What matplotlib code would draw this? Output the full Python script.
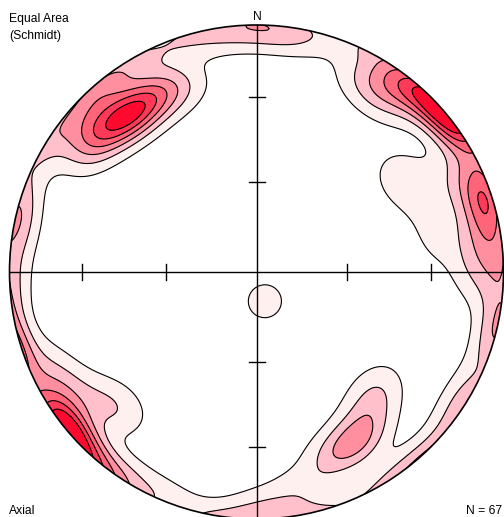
import numpy as np
import matplotlib
matplotlib.use("Agg")
import matplotlib.pyplot as plt
from matplotlib.patches import Circle

# ---- data: 67 axial measurements (trend, plunge in degrees) ----
trend = [
    # NW cluster
    321, 320, 322, 317, 325,
    311, 306, 332, 313, 329,
    318, 330, 323, 316, 337, 308,
    # N band
    341, 350, 358, 5, 10,
    # NE cluster (on primitive)
    47, 49, 229, 231, 52, 44, 40, 233,
    40, 36, 55,
    30, 35,
    # E cluster
    70, 72, 71, 74, 82,
    65, 80, 64, 78, 88, 57,
    # E primitive
    103, 107, 120, 125, 92,
    # SE cluster
    150, 152, 146, 158, 140, 134, 168, 178,
    # SW inward, W, SW
    230, 238, 244, 268, 202, 213, 280, 225,
    # centre
    164,
]
plunge = [
    20, 19, 20, 19, 19,
    14, 8, 17, 18, 21,
    6, 2, 1, 2, 21, 18,
    2, 3, 3, 2, 4,
    1, 0, 1, 2, 1, 2, 8, 3,
    3, 5, 2,
    12, 16,
    3, 5, 2, 5, 3,
    12, 10, 26, 26, 15, 32,
    0, 1, 3, 1, 6,
    22, 21, 24, 20, 29, 33, 12, 6,
    18, 13, 8, 1, 2, 3, 3, 24,
    80,
]
n_label = "N = %d" % len(trend)

# ---- geometry (pixels of the reference) ----
W, H = 504, 517
CX, CY, R = 256.5, 272.0, 247.0

fig = plt.figure(figsize=(W / 100, H / 100), dpi=100)
ax = fig.add_axes([0, 0, 1, 1])
ax.set_xlim(-CX / R, (W - CX) / R)
ax.set_ylim(-(H - CY) / R, CY / R)
ax.axis("off")

# ---- density (exponential Kamb-like kernel, axial) ----
t = np.radians(trend)
p = np.radians(plunge)
dn = np.cos(p) * np.cos(t)
de = np.cos(p) * np.sin(t)
dd = np.sin(p)

g = np.linspace(-1.05, 1.05, 421)
X, Y = np.meshgrid(g, g)
r = np.clip(np.hypot(X, Y), 0, np.sqrt(2) - 1e-9)
th = 2 * np.arcsin(r / np.sqrt(2))
az = np.arctan2(X, Y)
gn = np.sin(th) * np.cos(az)
ge = np.sin(th) * np.sin(az)
gd = np.cos(th)
dots = np.abs(gn[..., None] * dn + ge[..., None] * de + gd[..., None] * dd)
f = 80.0
Z = np.exp(f * (dots - 1)).sum(axis=-1)

levels = [0.7, 1.7, 2.7, 3.7, 4.7, 5.7, 1e9]
colors = ['#FFF0F0', '#FFC0CB', '#FF8F9F', '#FF6478', '#FF3A58', '#FF0A2E']
circ = Circle((0, 0), 1.0, transform=ax.transData)
cf = ax.contourf(X, Y, Z, levels=levels, colors=colors)
cf.set_clip_path(circ)
cl = ax.contour(X, Y, Z, levels=levels[:-1], colors='black', linewidths=0.8)
cl.set_clip_path(circ)

# ---- net frame ----
ax.add_patch(Circle((0, 0), 1.0, fill=False, edgecolor='black', lw=1.2, zorder=5))
ax.plot([0, 0], [-1, 1], color='black', lw=1.0, zorder=5)
ax.plot([-1, 1], [0, 0], color='black', lw=1.0, zorder=5)
tick_plunges = [60, 30]
hl = 8 / R
for tp in tick_plunges:
    rr = np.sqrt(2) * np.sin(np.radians(90 - tp) / 2)
    for s in (-1, 1):
        ax.plot([s * rr, s * rr], [-hl, hl], color='black', lw=1.0, zorder=5)
        ax.plot([-hl, hl], [s * rr, s * rr], color='black', lw=1.0, zorder=5)

def px(x, y):
    return (x - CX) / R, (CY - y) / R

fs = 8.7
fam = ['Liberation Sans', 'DejaVu Sans']
ax.text(*px(9, 22), "Equal Area", fontsize=fs, family=fam, ha='left', va='baseline')
ax.text(*px(9, 39), "(Schmidt)", fontsize=fs, family=fam, ha='left', va='baseline')
ax.text(*px(257, 20), "N", fontsize=fs, family=fam, ha='center', va='baseline')
ax.text(*px(9, 514.5), "Axial", fontsize=fs, family=fam, ha='left', va='baseline')
ax.text(*px(502, 514.5), n_label, fontsize=fs, family=fam, ha='right', va='baseline')

fig.savefig("out.png", dpi=100)
